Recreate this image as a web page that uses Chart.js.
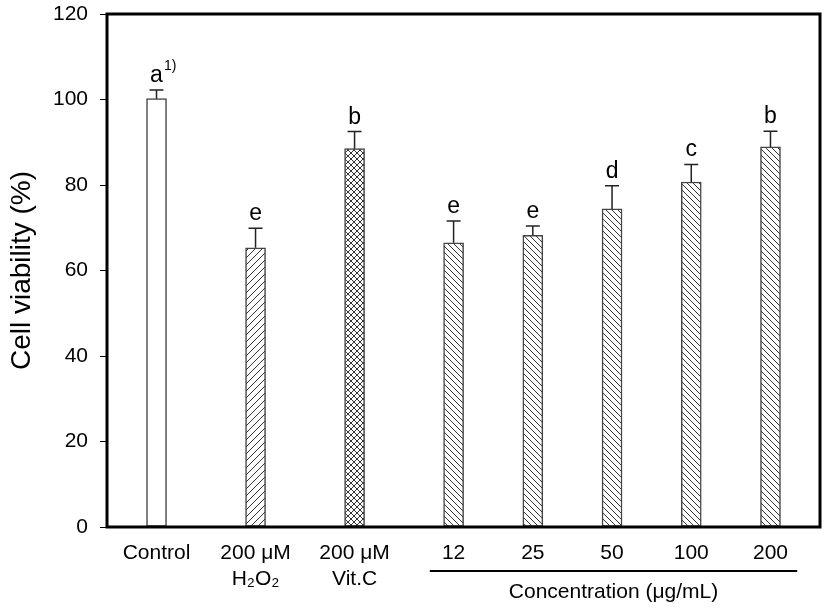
<!DOCTYPE html>
<html lang="en">
<head>
<meta charset="UTF-8">
<title>Cell viability</title>
<script src="https://cdn.jsdelivr.net/npm/chart.js"></script>
<style>
  html, body { margin: 0; padding: 0; background: #fff; }
  .wrap { width: 827px; height: 610px; }
</style>
</head>
<body>
<div class="wrap"><canvas id="viabilityChart" width="827" height="610"></canvas></div>
<script>
// data
const groups = [['Control'], ['200 μM', 'H₂O₂'], ['200 μM', 'Vit.C'], ['12'], ['25'], ['50'], ['100'], ['200']];
const slots = [2.5, 7.5, 12.5, 17.5, 21.5, 25.5, 29.5, 33.5];   // slot of each group on the x axis (0..36)
const viability = [100.2, 65.3, 88.5, 66.5, 68.2, 74.4, 80.7, 88.9];
const sdUpper = [2.0, 4.6, 4.0, 5.1, 2.2, 5.4, 4.1, 3.7];
const letters = ['a', 'e', 'b', 'e', 'e', 'd', 'c', 'b'];
const yTicks = [0, 20, 40, 60, 80, 100, 120];
const concLabel = 'Concentration (μg/mL)';

const FONT = "'Liberation Sans', Arial, sans-serif";
const canvas = document.getElementById('viabilityChart');
const ctx = canvas.getContext('2d');

function hatch(kind, size) {
    const c = document.createElement('canvas');
    c.width = c.height = size;
    const g = c.getContext('2d');
    g.fillStyle = '#fff';
    g.fillRect(0, 0, size, size);
    g.strokeStyle = '#333';
    g.lineWidth = 1;
    g.beginPath();
    if (kind === 'fwd' || kind === 'cross') {
        g.moveTo(-1, size + 1); g.lineTo(size + 1, -1);
        g.moveTo(-1, 1); g.lineTo(1, -1);
        g.moveTo(size - 1, size + 1); g.lineTo(size + 1, size - 1);
    }
    if (kind === 'back' || kind === 'cross') {
        g.moveTo(-1, -1); g.lineTo(size + 1, size + 1);
        g.moveTo(size - 1, -1); g.lineTo(size + 1, 1);
        g.moveTo(-1, size - 1); g.lineTo(1, size + 1);
    }
    g.stroke();
    return ctx.createPattern(c, 'repeat');
}

const fills = ['#fff', hatch('fwd', 7), hatch('cross', 6), hatch('back', 6), hatch('back', 6), hatch('back', 6), hatch('back', 6), hatch('back', 6)];

const extras = {
    id: 'extras',
    afterDatasetsDraw(chart) {
        const c = chart.ctx;
        const x = chart.scales.x, y = chart.scales.y;
        const area = chart.chartArea;
        const bars = chart.getDatasetMeta(0).data;
        c.save();
        // error bars (upper only)
        c.strokeStyle = '#222';
        c.lineWidth = 1.5;
        bars.forEach((b, i) => {
            const top = y.getPixelForValue(viability[i] + sdUpper[i]);
            c.beginPath();
            c.moveTo(b.x, b.y);
            c.lineTo(b.x, top);
            c.moveTo(b.x - 7, top);
            c.lineTo(b.x + 7, top);
            c.stroke();
        });
        // significance letters
        c.fillStyle = '#000';
        c.textBaseline = 'alphabetic';
        bars.forEach((b, i) => {
            const top = y.getPixelForValue(viability[i] + sdUpper[i]);
            c.font = '23px ' + FONT;
            c.textAlign = 'center';
            c.fillText(letters[i], b.x, top - 8);
            if (i === 0) {
                const w = c.measureText(letters[i]).width;
                c.font = '14px ' + FONT;
                c.textAlign = 'left';
                c.fillText('1)', b.x + w / 2 + 1, top - 20);
            }
        });
        // frame
        c.strokeStyle = '#000';
        c.lineWidth = 3;
        c.strokeRect(area.left, area.top, area.right - area.left, area.bottom - area.top);
        // concentration bracket
        const x0 = x.getPixelForValue(slots[3] - 1.2);
        const x1 = x.getPixelForValue(slots[7] + 1.35);
        const ly = area.bottom + 44;
        c.lineWidth = 2;
        c.beginPath();
        c.moveTo(x0, ly);
        c.lineTo(x1, ly);
        c.stroke();
        c.font = '21px ' + FONT;
        c.textAlign = 'center';
        c.textBaseline = 'middle';
        c.fillText(concLabel, (x0 + x1) / 2, ly + 21);
        c.restore();
    }
};

new Chart(ctx, {
    type: 'bar',
    data: {
        datasets: [{
            data: viability.map((v, i) => ({ x: slots[i], y: v })),
            backgroundColor: fills,
            borderColor: '#444',
            borderWidth: 1.5,
            borderSkipped: false,
            barThickness: 20
        }]
    },
    options: {
        responsive: false,
        animation: false,
        layout: { padding: { top: 14, right: 7, left: 0, bottom: 0 } },
        plugins: { legend: { display: false }, tooltip: { enabled: false } },
        scales: {
            x: {
                type: 'linear',
                offset: false,
                min: 0,
                max: 36,
                afterBuildTicks: (s) => { s.ticks = slots.map(v => ({ value: v })); },
                afterFit: (s) => { s.height = 83; s.paddingLeft = 0; s.paddingRight = 0; },
                grid: { display: false, drawTicks: false, offset: false },
                border: { display: false },
                ticks: {
                    autoSkip: false,
                    maxRotation: 0,
                    padding: 14,
                    color: '#000',
                    font: { family: FONT, size: 21 },
                    callback: (v) => groups[slots.indexOf(v)]
                }
            },
            y: {
                min: 0,
                max: 120,
                afterBuildTicks: (s) => { s.ticks = yTicks.map(v => ({ value: v })); },
                afterFit: (s) => { s.width = 107; s.paddingTop = 0; s.paddingBottom = 0; },
                grid: { drawOnChartArea: false, drawTicks: true, tickLength: 7, color: '#000', lineWidth: 1 },
                border: { display: false },
                ticks: {
                    padding: 12,
                    color: '#000',
                    font: { family: FONT, size: 21 }
                },
                title: {
                    display: true,
                    text: 'Cell viability (%)',
                    color: '#000',
                    padding: { top: 5, bottom: 0 },
                    font: { family: FONT, size: 28 }
                }
            }
        }
    },
    plugins: [extras]
});
</script>
</body>
</html>
